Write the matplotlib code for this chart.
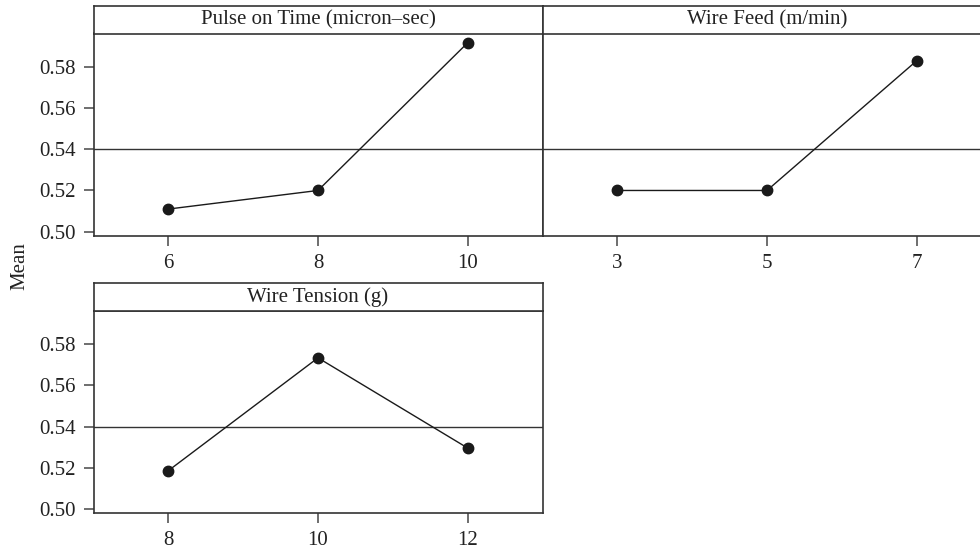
import matplotlib
matplotlib.use("Agg")
import matplotlib.pyplot as plt

# Data
titles = ["Pulse on Time (micron\u2013sec)", "Wire Feed (m/min)", "Wire Tension (g)"]
levels_pulse = [6, 8, 10]
means_pulse = [0.511, 0.520, 0.5915]
levels_feed = [3, 5, 7]
means_feed = [0.520, 0.520, 0.5828]
levels_tension = [8, 10, 12]
means_tension = [0.5186, 0.5734, 0.5296]
grand_mean = 0.540
yticks = [0.50, 0.52, 0.54, 0.56, 0.58]
ylabel = "Mean"

plt.rcParams['font.family'] = ['Liberation Serif', 'DejaVu Serif']
FS = 15

W, H = 980, 552
fig = plt.figure(figsize=(W / 100, H / 100), dpi=100)

spine_c = '#333333'
line_c = '#1a1a1a'


def px_axes(left, top, right, bottom):
    return fig.add_axes([left / W, (H - bottom) / H, (right - left) / W, (bottom - top) / H])


def panel(left, right, strip_top, strip_bot, bot, title, xs, ys, show_y):
    ax = px_axes(left, strip_bot, right, bot)
    sax = px_axes(left, strip_top, right, strip_bot)
    for a in (ax, sax):
        for s in a.spines.values():
            s.set_color(spine_c)
            s.set_linewidth(1.2)
    sax.set_xticks([])
    sax.set_yticks([])
    sax.text(0.5, 0.5, title, ha='center', va='center', fontsize=FS,
             transform=sax.transAxes, color='#222222')
    ax.axhline(grand_mean, color='#333333', lw=1.0, zorder=1)
    ax.plot(xs, ys, color=line_c, lw=1.0, marker='o', markersize=7.5,
            markerfacecolor=line_c, markeredgecolor=line_c, zorder=3)
    ax.set_xlim(xs[0] - 1, xs[-1] + 1)
    ax.set_ylim(0.4982, 0.5960)
    ax.set_xticks(xs)
    ax.set_xticklabels([str(v) for v in xs])
    ax.tick_params(axis='x', direction='out', length=7, width=1.2, color='#555555',
                   labelsize=FS, pad=6, labelcolor='#222222')
    if show_y:
        ax.set_yticks(yticks)
        ax.set_yticklabels([f"{v:.2f}" for v in yticks])
        ax.tick_params(axis='y', direction='out', length=7, width=1.2, color='#555555',
                       labelsize=FS, pad=6, labelcolor='#222222')
    else:
        ax.set_yticks([])
    return ax


panel(93.5, 542.5, 6, 33.5, 235.5, titles[0], levels_pulse, means_pulse, True)
panel(542.5, 991.5, 6, 33.5, 235.5, titles[1], levels_feed, means_feed, False)
panel(93.5, 542.5, 283.3, 311.3, 512.7, titles[2], levels_tension, means_tension, True)

fig.text(20 / W, 1 - 266 / H, ylabel, rotation=90, ha='center', va='center',
         fontsize=FS, color='#222222')

fig.savefig("out.png", dpi=100)
